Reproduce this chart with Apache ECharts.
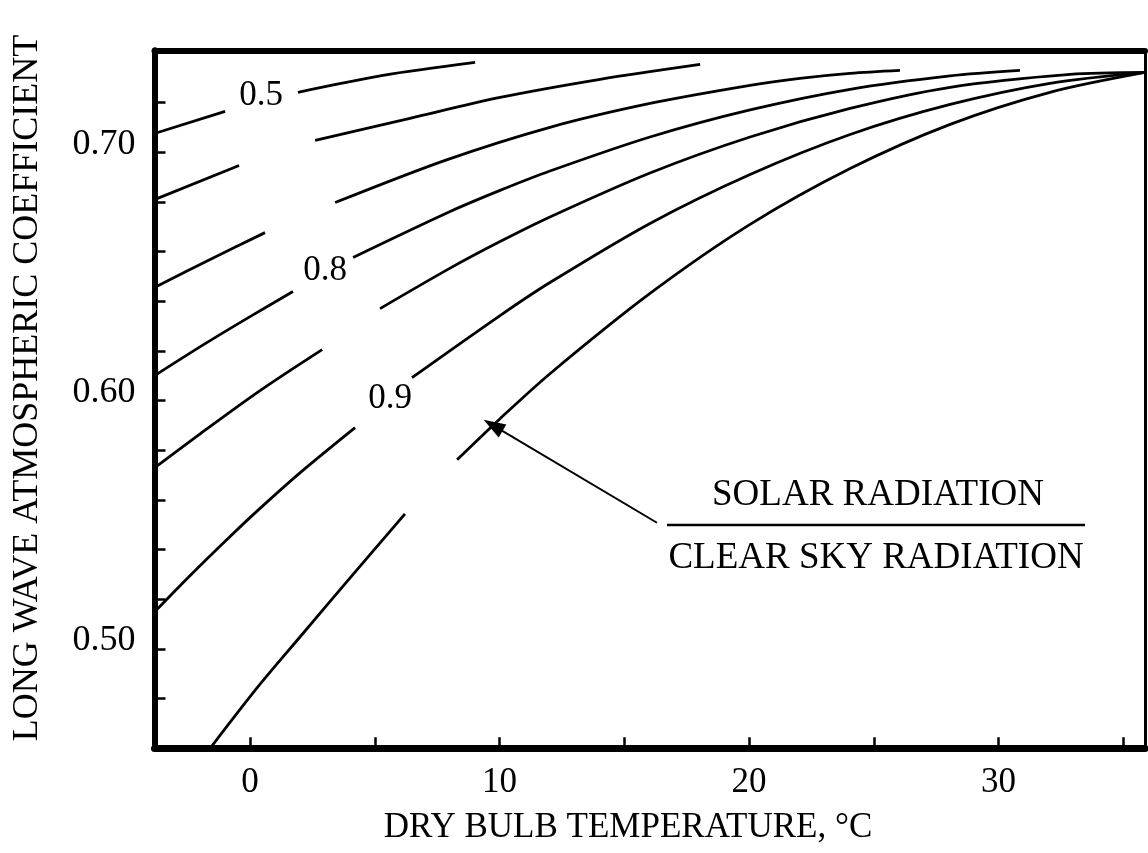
<!DOCTYPE html>
<html>
<head>
<meta charset="utf-8">
<script src="https://cdn.jsdelivr.net/npm/echarts@6/dist/echarts.min.js"></script>
<style>
  html, body { margin: 0; padding: 0; background: #fff; }
  #chart { width: 1148px; height: 853px; }
</style>
</head>
<body>
<div id="chart"></div>
<script>
// Axis ticks and labels
const tempTicks = [0, 5, 10, 15, 20, 25, 30, 35];
const tempLabels = [0, 10, 20, 30];
const coefTicks = [0.48, 0.50, 0.52, 0.54, 0.56, 0.58, 0.60, 0.62, 0.64, 0.66, 0.68, 0.70, 0.72];
const coefLabels = [0.50, 0.60, 0.70];

// Curves for each solar / clear-sky radiation ratio:
// each is a list of drawn segments of [dry bulb temperature °C, coefficient]
const curve05 = [
  [[-3.83, 0.7075], [-1.00, 0.7164]],
  [[1.92, 0.7241], [5.33, 0.7309], [9.02, 0.7361]]
];
const curve06 = [
  [[-3.83, 0.6809], [-0.44, 0.6946]],
  [[2.61, 0.7047], [6.41, 0.7136], [10.02, 0.7220], [14.03, 0.7293], [18.04, 0.7353]]
];
const curve07 = [
  [[-3.83, 0.6455], [-1.60, 0.6568], [0.60, 0.6676]],
  [[3.41, 0.6797], [7.82, 0.6967], [12.02, 0.7100], [16.03, 0.7196], [20.04, 0.7269],
   [22.04, 0.7297], [24.05, 0.7317], [26.05, 0.7329]]
];
const curve08 = [
  [[-3.83, 0.6100], [-1.80, 0.6229], [0.00, 0.6338], [1.72, 0.6439]],
  [[4.13, 0.6576], [8.02, 0.6761], [10.02, 0.6846], [12.02, 0.6924], [16.03, 0.7061],
   [20.04, 0.7170], [24.05, 0.7253], [28.06, 0.7307], [30.86, 0.7329]]
];
const curve085 = [
  [[-3.83, 0.5729], [-2.00, 0.5866], [0.40, 0.6040], [2.89, 0.6205]],
  [[5.21, 0.6370], [8.02, 0.6533], [10.02, 0.6640], [12.02, 0.6739], [16.03, 0.6916],
   [20.04, 0.7061], [24.05, 0.7176], [28.06, 0.7261], [32.87, 0.7313], [35.87, 0.7321]]
];
const curve09 = [
  [[-3.83, 0.5149], [-2.40, 0.5296], [-0.80, 0.5453], [0.40, 0.5566], [2.00, 0.5709], [4.21, 0.5891]],
  [[6.49, 0.6092], [10.02, 0.6342], [12.02, 0.6475], [16.03, 0.6713], [20.04, 0.6910],
   [24.05, 0.7071], [28.06, 0.7192], [32.06, 0.7277], [35.87, 0.7321]]
];
const curve10 = [
  [[-1.60, 0.4600], [0.28, 0.4843], [2.00, 0.5048], [4.01, 0.5286], [6.21, 0.5544]],
  [[8.30, 0.5762], [10.02, 0.5927], [12.02, 0.6108], [16.03, 0.6431], [20.04, 0.6709],
   [24.05, 0.6934], [28.06, 0.7112], [32.06, 0.7241], [35.87, 0.7321]]
];

const ratioNames = ['0.5', '0.6', '0.7', '0.8', '0.85', '0.9', '1.0'];
const ratioCurves = [curve05, curve06, curve07, curve08, curve085, curve09, curve10];

// Inline curve labels, anchored in data space
const curveLabels = [
  { text: '0.5', at: [0.44, 0.7228] },
  { text: '0.8', at: [3.01, 0.6523] },
  { text: '0.9', at: [5.61, 0.6007] }
];

// Leader arrow from the ratio caption to the 1.0 curve
const arrowFrom = [16.31, 0.5508];
const arrowTo = [9.74, 0.5900];

const xRange = [-3.83, 35.87];
const yRange = [0.46, 0.741];

const SERIF = '"Liberation Serif", "Times New Roman", serif';
const INK = '#000';

function joinSegments(segs) {
  const out = [];
  segs.forEach((s, i) => {
    if (i > 0) out.push([null, null]);
    s.forEach(p => out.push(p));
  });
  return out;
}

const series = ratioCurves.map((segs, i) => {
  const s = {
    name: ratioNames[i],
    type: 'line',
    data: joinSegments(segs),
    showSymbol: false,
    connectNulls: false,
    smooth: 0.3,
    lineStyle: { color: INK, width: 2.8 },
    emphasis: { disabled: true },
    silent: true,
    z: 3
  };
  if (ratioNames[i] === '1.0') {
    s.markLine = {
      silent: true,
      symbol: ['none', 'triangle'],
      symbolSize: [15, 22],
      lineStyle: { color: INK, width: 2, type: 'solid' },
      label: { show: false },
      emphasis: { disabled: true },
      data: [[{ coord: arrowFrom }, { coord: arrowTo }]]
    };
  }
  return s;
});

const chart = echarts.init(document.getElementById('chart'), null, { renderer: 'canvas' });

const option = {
  animation: false,
  backgroundColor: '#fff',
  grid: { left: 154.5, right: 3, top: 50.3, bottom: 104.7, containLabel: false },
  xAxis: [
    {
      type: 'value', position: 'bottom', min: xRange[0], max: xRange[1],
      axisLine: { onZero: false, lineStyle: { color: INK, width: 7 } },
      axisTick: { inside: true, length: 11, customValues: tempTicks, lineStyle: { color: INK, width: 2.5 } },
      axisLabel: { customValues: tempLabels, color: INK, fontFamily: SERIF, fontSize: 35, margin: 17 },
      splitLine: { show: false }
    },
    {
      type: 'value', position: 'top', min: xRange[0], max: xRange[1],
      axisLine: { onZero: false, lineStyle: { color: INK, width: 6 } },
      axisTick: { show: false }, axisLabel: { show: false }, splitLine: { show: false }
    }
  ],
  yAxis: [
    {
      type: 'value', position: 'left', min: yRange[0], max: yRange[1],
      axisLine: { show: true, onZero: false, lineStyle: { color: INK, width: 6 } },
      axisTick: { show: true, inside: true, length: 11, customValues: coefTicks, lineStyle: { color: INK, width: 2.5 } },
      axisLabel: {
        customValues: coefLabels, color: INK, fontFamily: SERIF, fontSize: 36, margin: 19,
        verticalAlign: 'bottom', lineHeight: 16,
        formatter: v => v.toFixed(2)
      },
      splitLine: { show: false }
    },
    {
      type: 'value', position: 'right', min: yRange[0], max: yRange[1],
      axisLine: { show: true, onZero: false, lineStyle: { color: INK, width: 3 } },
      axisTick: { show: false }, axisLabel: { show: false }, splitLine: { show: false }
    }
  ],
  series: series
};

chart.setOption(option);

const graphics = [
  {
    type: 'text', x: 28, y: 388, rotation: Math.PI / 2,
    style: { text: 'LONG WAVE ATMOSPHERIC COEFFICIENT', font: '36px ' + SERIF, fill: INK, align: 'center', verticalAlign: 'middle' }
  },
  {
    type: 'text', x: 628, y: 828,
    style: { text: 'DRY BULB TEMPERATURE, °C', font: '35px ' + SERIF, fill: INK, align: 'center', verticalAlign: 'middle' }
  },
  {
    type: 'text', x: 878, y: 495,
    style: { text: 'SOLAR RADIATION', font: '37px ' + SERIF, fill: INK, align: 'center', verticalAlign: 'middle' }
  },
  {
    type: 'line', shape: { x1: 667, y1: 525, x2: 1085, y2: 525 },
    style: { stroke: INK, lineWidth: 2.5 }
  },
  {
    type: 'text', x: 876, y: 558,
    style: { text: 'CLEAR SKY RADIATION', font: '37px ' + SERIF, fill: INK, align: 'center', verticalAlign: 'middle' }
  }
];

curveLabels.forEach(l => {
  const p = chart.convertToPixel({ gridIndex: 0 }, l.at);
  graphics.push({
    type: 'text', x: p[0], y: p[1],
    style: { text: l.text, font: '35px ' + SERIF, fill: INK, align: 'center', verticalAlign: 'middle' }
  });
});

chart.setOption({ graphic: graphics });
</script>
</body>
</html>
